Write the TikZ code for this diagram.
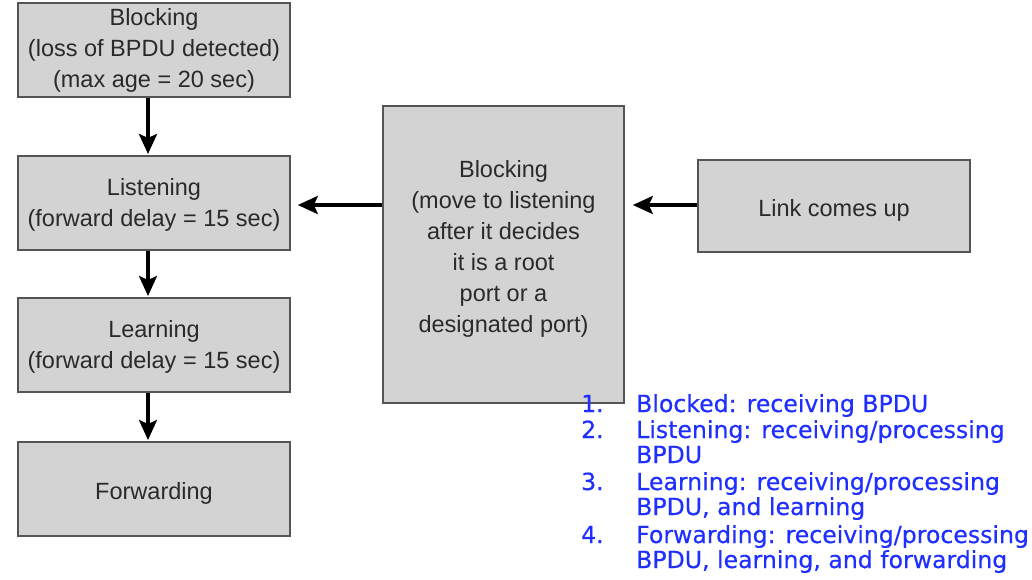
\documentclass[tikz,border=0pt]{standalone}
\usepackage{fontspec}
\setmainfont{Liberation Sans}
\newfontfamily\listfont[FakeBold=0.4]{DejaVu Sans}
\usetikzlibrary{arrows.meta}
\definecolor{boxfill}{HTML}{D3D3D3}
\definecolor{boxdraw}{HTML}{555555}
\definecolor{boxtext}{HTML}{2A2A2A}
\definecolor{listblue}{HTML}{1F2FFF}
\tikzset{
  state/.style={draw=boxdraw, fill=boxfill, line width=1.6pt,
    rectangle, inner sep=0pt},
  statetxt/.style={text=boxtext, inner sep=0pt, align=center,
    font=\fontsize{23.5}{31}\selectfont},
  flow/.style={line width=3.6pt, -{Stealth[length=20pt,width=18pt,inset=4pt]}},
  listtxt/.style={text=listblue, inner sep=0pt, anchor=base west,
    font=\listfont\fontsize{23.6}{26}\selectfont},
}
\begin{document}
\begin{tikzpicture}[x=1pt,y=-1pt]
\useasboundingbox (0,0) rectangle (1032,579);
\node[state, minimum width=272pt, minimum height=94pt] (b1) at (154,50) {};
\node[statetxt] (b1t) at (154,50) {Blocking\\(loss of BPDU detected)\\(max age = 20 sec)};
\node[state, minimum width=272pt, minimum height=94pt] (lis) at (154,203) {};
\node[statetxt] (list) at (154,205) {Listening\\(forward delay = 15 sec)};
\node[state, minimum width=272pt, minimum height=94pt] (lea) at (154,345) {};
\node[statetxt] (leat) at (154,347) {Learning\\(forward delay = 15 sec)};
\node[state, minimum width=272pt, minimum height=94pt] (fwd) at (154,489) {};
\node[statetxt] (fwdt) at (154,493) {Forwarding};
\node[state, minimum width=241pt, minimum height=297pt] (mid) at (503.5,254.5) {};
\node[statetxt] (midt) at (503.5,249) {Blocking\\(move to listening\\after it decides\\it is a root\\port or a\\designated port)};
\node[state, minimum width=272pt, minimum height=92pt] (link) at (834,206) {};
\node[statetxt] (linkt) at (834,210) {Link comes up};
\coordinate (a1e) at (148,156);
\coordinate (a2e) at (148,298);
\coordinate (a3e) at (148,442);
\draw[flow, shorten >=2pt] (b1.south -| a1e) -- (a1e);
\draw[flow, shorten >=2pt] (lis.south -| a2e) -- (a2e);
\draw[flow, shorten >=2pt] (lea.south -| a3e) -- (a3e);
\draw[flow, shorten >=7pt] (mid.west |- 0,205) -- (lis.east |- 0,205);
\draw[flow, shorten >=8pt] (link.west |- 0,205) -- (mid.east |- 0,205);
% list
\node[listtxt] (n1) at (581,412) {1.};
\node[listtxt] (t1) at (636,412) {Blocked: receiving BPDU};
\node[listtxt] (n2) at (581,438) {2.};
\node[listtxt] (t2) at (636,438) {Listening: receiving/processing};
\node[listtxt] (t2b) at (636,463) {BPDU};
\node[listtxt] (n3) at (581,490) {3.};
\node[listtxt] (t3) at (636,490) {Learning: receiving/processing};
\node[listtxt] (t3b) at (636,515) {BPDU, and learning};
\node[listtxt] (n4) at (581,543) {4.};
\node[listtxt] (t4) at (636,543) {Forwarding: receiving/processing};
\node[listtxt] (t4b) at (636,568) {BPDU, learning, and forwarding};
\end{tikzpicture}
\end{document}
